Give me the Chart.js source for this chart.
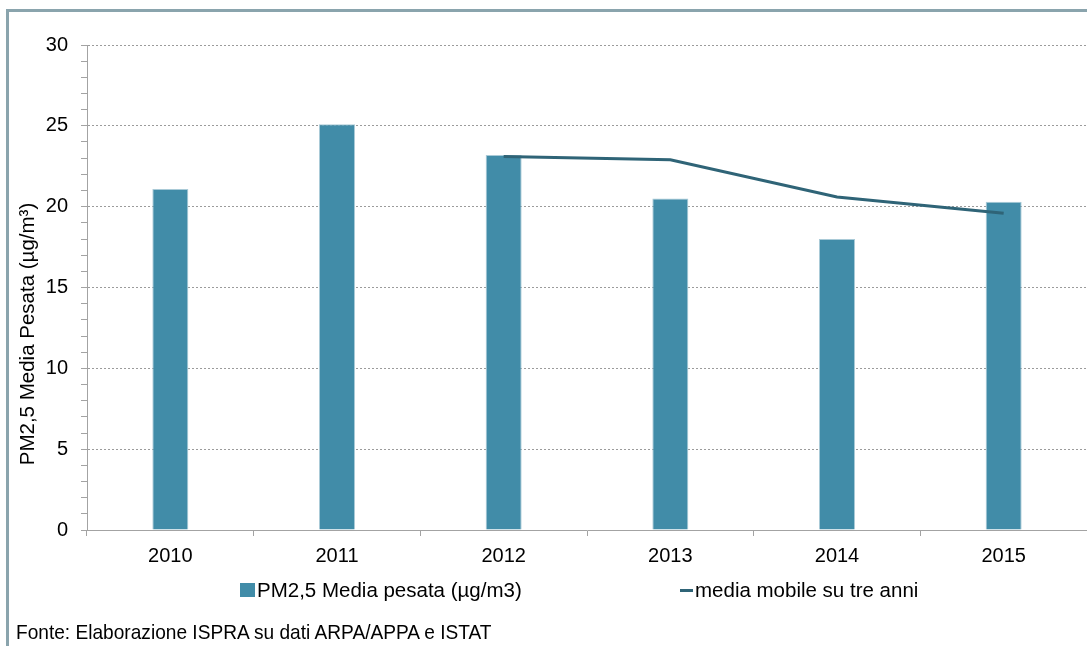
<!DOCTYPE html>
<html>
<head>
<meta charset="utf-8">
<script src="https://cdn.jsdelivr.net/npm/chart.js@4"></script>
<style>
  html, body { margin: 0; padding: 0; background: #fff; }
  body { width: 1087px; height: 646px; position: relative; overflow: hidden; font-family: "Liberation Sans", Arial, sans-serif; }
  #frame { position: absolute; left: 6px; top: 9px; width: 2000px; height: 2000px; border-left: 3px solid #8aa4ad; border-top: 3px solid #8aa4ad; }
  #pm25 { position: absolute; left: 0; top: 0; }
  #legend { position: absolute; top: 579px; left: 240px; display: flex; font-size: 20.5px; color: #000; }
  .item { display: flex; align-items: center; height: 22px; }
  .item:first-child { width: 440px; }
  .swatch { margin-right: 2px; }
  #source { position: absolute; left: 16px; top: 620px; font-size: 21px; color: #000; white-space: nowrap; transform: scaleX(0.91); transform-origin: 0 50%; }
</style>
</head>
<body>
<div id="frame"></div>
<canvas id="pm25" width="1087" height="646"></canvas>
<div id="legend"></div>
<div id="source">Fonte: Elaborazione ISPRA su dati ARPA/APPA e ISTAT</div>
<script>
const years = ['2010', '2011', '2012', '2013', '2014', '2015'];
const pmValues = [21.1, 25.1, 23.2, 20.5, 18.0, 20.3];
const movingAvg = [null, null, 23.1, 22.9, 20.6, 19.6];
const barLabel = 'PM2,5 Media pesata (µg/m3)';
const lineLabel = 'media mobile su tre anni';
const yTitle = 'PM2,5 Media Pesata (µg/m³)';

const axisGray = '#a3a3a3';
const tickFont = { family: 'Liberation Sans', size: 20 };

// rotated y title, sits a bit lower than the axis centre like in the original
const yTitlePlugin = {
  id: 'yTitle',
  afterDraw(chart) {
    const c = chart.ctx;
    c.save();
    c.translate(34, 334);
    c.rotate(-Math.PI / 2);
    c.font = '20.5px "Liberation Sans"';
    c.fillStyle = '#000';
    c.textAlign = 'center';
    c.textBaseline = 'alphabetic';
    c.fillText(yTitle, 0, 0);
    c.restore();
  }
};

const ctx = document.getElementById('pm25').getContext('2d');
const chart = new Chart(ctx, {
  type: 'bar',
  data: {
    labels: years,
    datasets: [{
      label: barLabel,
      data: pmValues,
      backgroundColor: '#418ca8',
      borderColor: '#a9cad7',
      borderWidth: 1,
      barPercentage: 0.216,
      categoryPercentage: 1,
      order: 2
    }, {
      type: 'line',
      label: lineLabel,
      data: movingAvg,
      borderColor: '#2f6477',
      borderWidth: 3,
      pointRadius: 0,
      tension: 0,
      order: 1
    }]
  },
  options: {
    responsive: false,
    maintainAspectRatio: false,
    animation: false,
    layout: { padding: { top: 45, bottom: 76, left: 0, right: 0 } },
    plugins: {
      legend: { display: false },
      tooltip: { enabled: false }
    },
    scales: {
      x: {
        afterFit: s => { s.height = 40; },
        grid: { offset: true, drawOnChartArea: false, tickLength: 6, tickColor: axisGray },
        border: { color: axisGray, width: 1 },
        ticks: { color: '#000', font: tickFont, padding: 8, maxRotation: 0 }
      },
      y: {
        min: 0,
        max: 30,
        afterFit: s => { s.width = 87; },
        grid: {
          tickLength: 6,
          tickColor: axisGray,
          tickBorderDash: [],
          color: c => (c.tick && c.tick.value % 5 === 0 && c.tick.value !== 0) ? '#9b9b9b' : 'rgba(0,0,0,0)'
        },
        border: { color: axisGray, width: 1, dash: [2, 2] },
        ticks: {
          stepSize: 1,
          maxTicksLimit: 40,
          autoSkip: false,
          color: '#000',
          font: tickFont,
          padding: 13,
          callback: v => (v % 5 === 0 ? v : '')
        }
      }
    }
  },
  plugins: [yTitlePlugin]
});

// legend built from the datasets
const legend = document.getElementById('legend');
chart.data.datasets.forEach(ds => {
  const item = document.createElement('div');
  item.className = 'item';
  const sw = document.createElement('span');
  sw.className = 'swatch';
  if (ds.type === 'line') {
    sw.style.cssText = 'display:inline-block;width:13px;height:3px;background:' + ds.borderColor;
  } else {
    sw.style.cssText = 'display:inline-block;width:15px;height:14px;background:' + ds.backgroundColor;
  }
  const txt = document.createElement('span');
  txt.textContent = ds.label;
  item.appendChild(sw);
  item.appendChild(txt);
  legend.appendChild(item);
});
</script>
</body>
</html>
